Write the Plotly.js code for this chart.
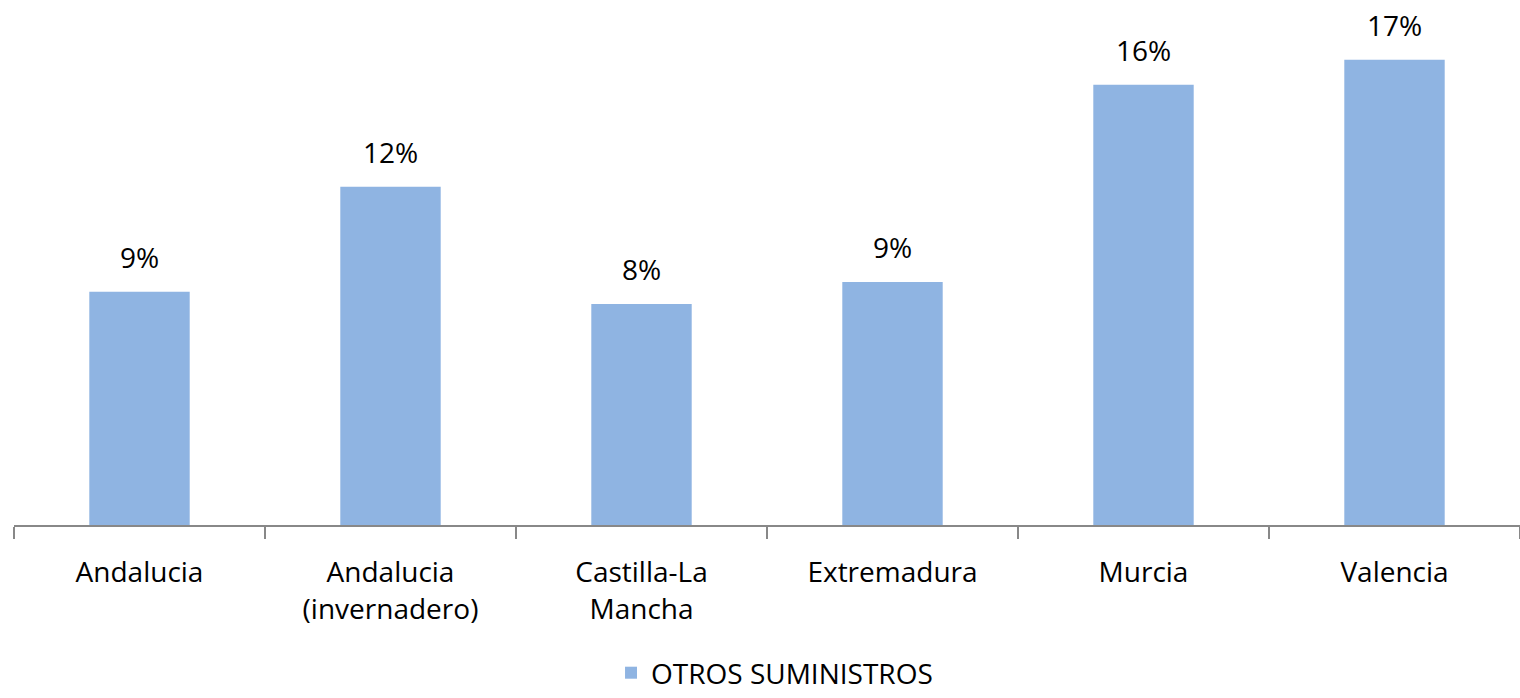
<!DOCTYPE html>
<html>
<head>
<meta charset="utf-8">
<script src="https://cdn.plot.ly/plotly-3.0.1.min.js"></script>
<style>
  html, body { margin: 0; padding: 0; background: #fff; }
  #chart { width: 1520px; height: 698px; }
</style>
</head>
<body>
<div id="chart"></div>
<script>
// datos (fracciones)
var regiones = ['Andalucia', 'Andalucia<br>(invernadero)', 'Castilla-La<br>Mancha', 'Extremadura', 'Murcia', 'Valencia'];
var otrosSuministros = [0.0857, 0.1243, 0.0812, 0.0893, 0.1618, 0.1710];
var serieNombre = 'OTROS SUMINISTROS';

var fuente = 'Open Sans, Noto Sans, sans-serif';

var trace = {
    type: 'bar',
    name: serieNombre,
    x: regiones,
    y: otrosSuministros,
    marker: { color: '#8fb4e2' },
    hoverinfo: 'skip'
};

// etiquetas encima de cada barra
var etiquetas = regiones.map(function (r, i) {
    return {
        x: r,
        y: otrosSuministros[i],
        xref: 'x', yref: 'y',
        text: Math.round(otrosSuministros[i] * 100) + '%',
        showarrow: false,
        yanchor: 'bottom',
        yshift: 14,
        font: { family: fuente, size: 28, color: '#000' }
    };
});

var layout = {
    width: 1520,
    height: 698,
    margin: { l: 14, r: 0, t: 8, b: 173 },
    paper_bgcolor: '#fff',
    plot_bgcolor: '#fff',
    bargap: 0.6,
    showlegend: true,
    legend: {
        orientation: 'h',
        xref: 'paper', x: 0.505, xanchor: 'center',
        yref: 'container', y: 0, yanchor: 'bottom',
        font: { family: fuente, size: 28, color: '#000' }
    },
    xaxis: {
        automargin: false,
        showline: true,
        linecolor: '#888',
        linewidth: 1.5,
        ticks: 'outside',
        tickson: 'boundaries',
        ticklen: 12,
        tickwidth: 1.5,
        tickcolor: '#888',
        ticklabelstandoff: 22,
        tickfont: { family: fuente, size: 28, color: '#000' },
        showgrid: false,
        zeroline: false
    },
    yaxis: {
        range: [0, 0.19],
        visible: false,
        showgrid: false,
        zeroline: false
    },
    annotations: etiquetas
};

Plotly.newPlot('chart', [trace], layout, { displayModeBar: false, staticPlot: true });
</script>
</body>
</html>
